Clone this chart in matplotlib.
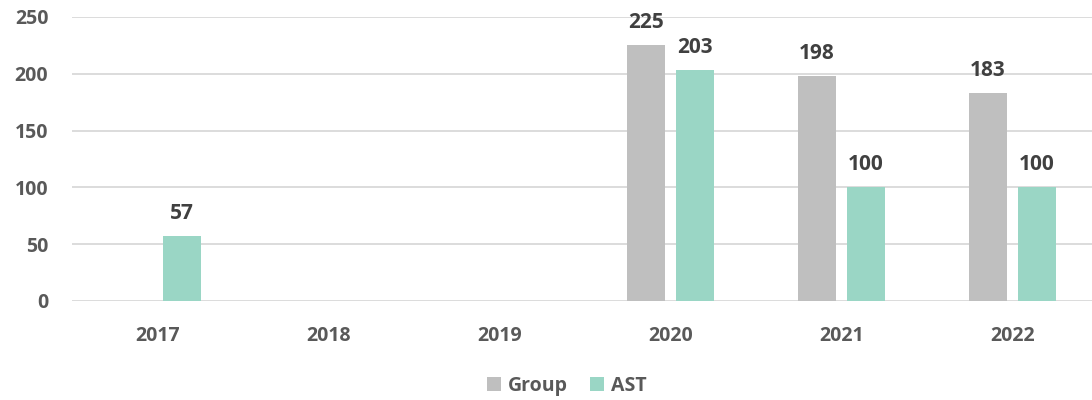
import matplotlib
matplotlib.use("Agg")
import matplotlib.pyplot as plt
import numpy as np

years = ["2017", "2018", "2019", "2020", "2021", "2022"]
group = [None, None, None, 225, 198, 183]
ast = [57, None, None, 203, 100, 100]
series_names = ["Group", "AST"]

plt.rcParams['font.family'] = ['Open Sans', 'DejaVu Sans']

fig = plt.figure(figsize=(10.92, 4.0), dpi=100)
ax = fig.add_axes([72/1092, 99/400, 1026/1092, 284/400])

x = np.arange(len(years))
w = 0.222
off = 0.143
gcol = "#BFBFBF"
acol = "#9AD6C5"

gx = [xi - off for xi, v in zip(x, group) if v is not None]
gv = [v for v in group if v is not None]
axx = [xi + off for xi, v in zip(x, ast) if v is not None]
av = [v for v in ast if v is not None]

b1 = ax.bar(gx, gv, width=w, color=gcol, label=series_names[0], zorder=2)
b2 = ax.bar(axx, av, width=w, color=acol, label=series_names[1], zorder=2)
for bars in (b1, b2):
    ax.bar_label(bars, padding=9, fontsize=15, fontweight='bold', color="#404040")

ax.set_xlim(-0.5, 5.5)
ax.set_ylim(0, 250)
ax.set_yticks([0, 50, 100, 150, 200, 250])
ax.yaxis.grid(True, color="#D9D9D9", linewidth=1.3, zorder=0)
ax.set_axisbelow(True)
for s in ax.spines.values():
    s.set_visible(False)
ax.set_xticks(x)
ax.set_xticklabels(years)
ax.tick_params(axis='both', length=0, labelsize=14, labelcolor="#595959")
ax.tick_params(axis='y', pad=17)
ax.tick_params(axis='x', pad=18)
for lbl in ax.get_xticklabels() + ax.get_yticklabels():
    lbl.set_fontweight('bold')

leg = fig.legend(handles=[b1, b2], loc='center', bbox_to_anchor=(0.519, 0.035),
                 ncol=2, frameon=False, fontsize=14, handlelength=0.75,
                 handleheight=0.75, columnspacing=1.1, handletextpad=0.35)
for t in leg.get_texts():
    t.set_fontweight('bold')
    t.set_color("#595959")

fig.savefig("out.png", dpi=100)
